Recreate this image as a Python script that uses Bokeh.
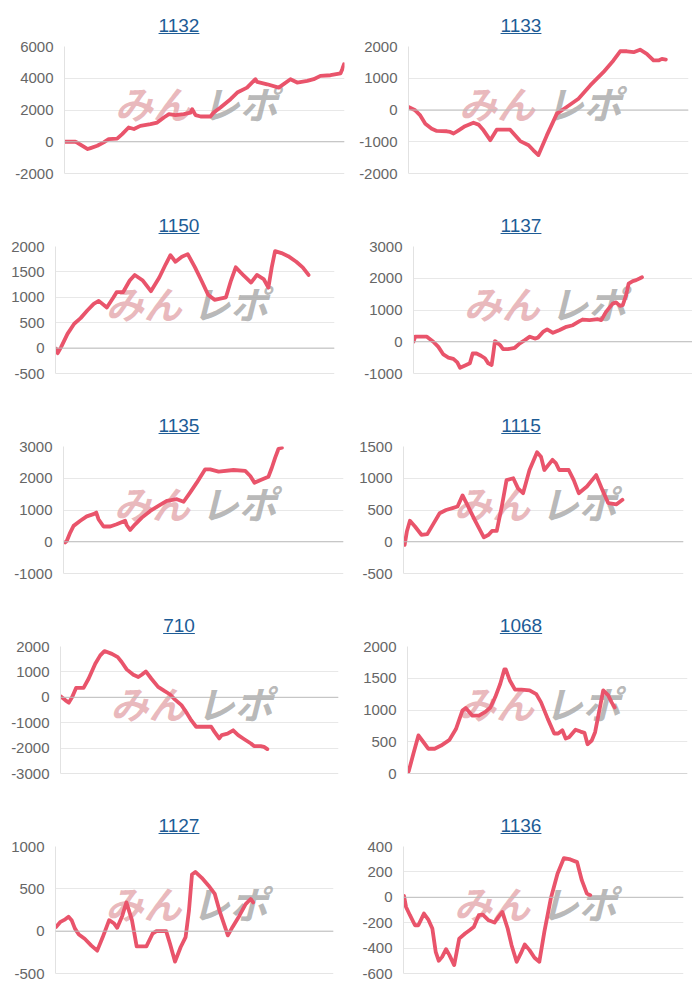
from bokeh.plotting import figure
from bokeh.models import Div, Span, FixedTicker, Range1d
from bokeh.layouts import column, row
from bokeh.core.properties import value
from bokeh.embed import file_html
from bokeh.resources import INLINE

# ---- data (x = progress 0..100, y = coin difference) ----
titles = ["1132", "1133", "1150", "1137", "1135", "1115", "710", "1068", "1127", "1136"]

pts_1132 = [(0, 0), (3.9, 0), (4.8, -80), (8.3, -460), (9.3, -400), (11.7, -250), (14, -40), (15.8, 170),
            (18.8, 200), (20.6, 480), (22.9, 900), (24.8, 800), (27.1, 1000), (30.7, 1110), (33.1, 1210),
            (35.5, 1530), (37.3, 1740), (39.6, 1680), (42.6, 1740), (45, 1840), (45.6, 2050), (46.8, 1680),
            (48.6, 1590), (52.1, 1590), (53.3, 1840), (55.7, 2160), (59.3, 2680), (61.7, 3100), (65.2, 3410),
            (68.2, 3940), (68.8, 3770), (72.4, 3620), (76.5, 3410), (80.7, 3940), (83.1, 3730), (86.7, 3830),
            (89, 3940), (91.4, 4150), (95, 4190), (98.6, 4310), (99.2, 4570), (99.8, 4880)]
pts_1133 = [(0, 94), (2.4, -10), (4.2, -170), (6, -430), (8.3, -590), (10.1, -660), (13.7, -670), (14.9, -690),
            (16.1, -740), (17.9, -640), (20.2, -510), (23.2, -400), (25, -460), (26.8, -640), (29.2, -950),
            (31.5, -620), (36.3, -620), (37.5, -740), (39.9, -980), (42.9, -1110), (44.6, -1270), (46.4, -1420),
            (49.4, -800), (53, -115), (56.5, 94), (60.7, 356), (64.9, 775), (69.6, 1190), (73.2, 1560),
            (75.6, 1850), (78, 1850), (80.4, 1820), (82.7, 1900), (85.1, 1770), (87.5, 1560), (89.3, 1560),
            (90.5, 1610), (91.9, 1590)]
pts_1150 = [(0.2, -10), (0.8, -100), (2, 20), (4.3, 280), (6.7, 480), (9, 590), (11.4, 740), (13.7, 870),
            (15.5, 930), (18.4, 800), (20.8, 1000), (21.9, 1100), (24.2, 1100), (26.6, 1330), (28.4, 1440),
            (31.3, 1330), (34.2, 1120), (37.2, 1390), (39.5, 1650), (41.2, 1830), (43, 1700), (45.3, 1800),
            (47.4, 1850), (50, 1590), (52.3, 1330), (54.7, 1050), (57, 950), (61.1, 1000), (62.9, 1330),
            (64.6, 1590), (67.6, 1420), (70.1, 1290), (72.2, 1440), (74.6, 1360), (76.3, 1190), (77.5, 1590),
            (78.7, 1910), (81, 1870), (83.4, 1810), (86.3, 1700), (88.6, 1590), (90.7, 1440)]
pts_1137 = [(0, 0), (0.6, 160), (4.8, 160), (7.1, 0), (8.9, -160), (10.7, -400), (12.5, -500), (14.3, -540),
            (15.7, -650), (16.7, -820), (18.5, -750), (20.2, -680), (21.2, -370), (22.6, -370), (24.2, -440),
            (25.6, -520), (26.8, -680), (28, -730), (28.6, -370), (29.2, 20), (31, -100), (32.1, -230),
            (33.9, -230), (36.3, -190), (38.1, -50), (39.9, 50), (41.7, 160), (43.5, 100), (44.6, 130),
            (46.4, 310), (47.9, 390), (50, 280), (52.4, 370), (54.8, 470), (57.1, 520), (59.5, 650),
            (60.7, 700), (63.1, 680), (66.1, 710), (67.3, 680), (69, 940), (71.4, 1200), (72.6, 1240),
            (74, 1130), (75, 1150), (76.2, 1470), (77.1, 1830), (78.6, 1910), (79.8, 1940), (81, 1990),
            (81.9, 2030)]
pts_1135 = [(0.6, -20), (1.2, 30), (2.4, 290), (3.6, 500), (6, 660), (8.3, 800), (10.7, 870), (11.7, 920),
            (12.5, 710), (14.3, 480), (16.7, 480), (19, 550), (22, 660), (22.6, 520), (23.8, 370), (25.6, 550),
            (28, 760), (31, 970), (33.9, 1130), (36.9, 1290), (40.5, 1340), (42.9, 1260), (45.2, 1550),
            (47.6, 1860), (50.6, 2280), (52.4, 2280), (55.4, 2210), (60.7, 2260), (64.9, 2230), (66.7, 2070),
            (68.2, 1860), (70.2, 1940), (73.2, 2050), (74.4, 2330), (75.6, 2650), (76.8, 2930), (78, 2960)]
pts_1115 = [(0.4, -50), (1.2, 160), (2.3, 330), (4.1, 240), (6.4, 110), (8.5, 120), (10.5, 270), (12.9, 450),
            (15.2, 500), (17.5, 530), (19.3, 555), (21.1, 730), (22.8, 580), (25.7, 320), (28.7, 70),
            (30.4, 110), (31.6, 170), (33.3, 170), (35.1, 555), (36.8, 970), (39.2, 1000), (40.9, 840),
            (42.7, 765), (45, 1130), (47.7, 1410), (49.1, 1340), (50.3, 1130), (53.2, 1290), (54.4, 1240),
            (55.6, 1130), (59, 1130), (60.8, 970), (62.6, 765), (65.5, 870), (68.8, 1050), (70.8, 840),
            (73.1, 610), (76.1, 590), (78.2, 660)]
pts_710 = [(0, 40), (1.8, -120), (3, -210), (4.2, 10), (5.6, 370), (8.3, 370), (10.1, 730), (12.5, 1320),
           (14.3, 1650), (15.8, 1820), (18.5, 1710), (20.6, 1580), (22, 1390), (23.8, 1100), (26.2, 890),
           (28, 800), (29.2, 890), (30.7, 1020), (32.7, 730), (35.1, 410), (37.5, 240), (39.3, 120),
           (41.1, -80), (43.5, -310), (45.2, -580), (47, -900), (48.8, -1160), (51.8, -1160), (54.2, -1160),
           (55.4, -1360), (57.1, -1620), (58, -1490), (60.1, -1430), (62.1, -1300), (63.9, -1490),
           (66.1, -1650), (68.5, -1820), (69.6, -1920), (72, -1920), (73.2, -1950), (74.4, -2040)]
pts_1068 = [(0.4, 30), (2.1, 310), (3.9, 600), (5.6, 500), (7.4, 390), (9.7, 390), (12, 440), (15, 530),
            (17.3, 700), (19.6, 990), (20.8, 1030), (23.2, 910), (25.5, 910), (27.8, 970), (29.6, 1040),
            (31.3, 1200), (33.1, 1410), (34.6, 1640), (35.1, 1640), (36.6, 1460), (38.4, 1320), (40.7, 1320),
            (43.6, 1310), (46, 1250), (47.7, 1120), (50.1, 860), (52.4, 630), (53.8, 630), (55.3, 680),
            (56.5, 550), (57.7, 570), (60, 690), (61.8, 660), (63.2, 640), (64.3, 460), (65.8, 520),
            (67, 650), (68.5, 990), (69.9, 1310), (71.7, 1230), (72.9, 1120), (74, 1040)]
pts_1127 = [(0.2, 50), (1.8, 110), (3.5, 140), (4.7, 170), (5.8, 130), (7, 30), (8.4, -40), (10.5, -90),
            (12.9, -170), (15, -230), (17, -70), (19.3, 130), (21.1, 90), (22.2, 40), (24, 180), (25.5, 340),
            (27.5, 130), (29.2, -180), (31, -180), (32.7, -180), (34.9, -30), (36.3, 0), (39.8, 0),
            (41.2, -150), (43, -360), (45, -190), (46.8, -70), (48, 240), (49.1, 670), (50.3, 700),
            (52.6, 630), (55, 540), (57.3, 440), (59, 240), (62, -50), (63.7, 50), (66.1, 180), (68.4, 320),
            (70.2, 380), (71.1, 340)]
pts_1136 = [(0.2, 10), (0.9, -76), (2.3, -141), (4.1, -220), (5.3, -220), (7.3, -128), (8.8, -173),
            (10.3, -246), (11.5, -429), (12.6, -500), (13.8, -469), (15.2, -408), (16.4, -455), (18.1, -534),
            (19.9, -325), (22, -285), (23.6, -259), (25.1, -233), (26.9, -141), (28.3, -136), (30.4, -181),
            (32.5, -199), (33.9, -154), (35.3, -115), (37.2, -246), (38.6, -377), (40.4, -508), (41.9, -442),
            (43.3, -372), (45, -416), (46.8, -476), (48.5, -508), (50.3, -272), (52.6, -10), (55, 186),
            (57.3, 309), (59.6, 298), (62, 277), (63.7, 133), (65.5, 29), (66.7, 16)]

series = [pts_1132, pts_1133, pts_1150, pts_1137, pts_1135, pts_1115, pts_710, pts_1068, pts_1127, pts_1136]

# y-axis scales (min, max, step) per chart
y_min = [-2000, -2000, -500, -1000, -1000, -500, -3000, 0, -500, -600]
y_max = [6000, 2000, 2000, 3000, 3000, 1500, 2000, 2000, 1000, 400]
y_step = [2000, 1000, 500, 1000, 1000, 500, 1000, 500, 500, 200]

# ---- styling ----
LINE_COLOR = "#e9546b"
TITLE_COLOR = "#1d5c96"
FONT = "Liberation Sans"
left_borders = [56, 58, 46, 63, 55, 53, 50, 57, 45, 53]
title_pad = [8, 14]
CELL_W = 342
FRAME_W = 280
FRAME_H = 127


def make_cell(i, last_row):
    title = titles[i]
    pad = title_pad[i % 2]
    div = Div(
        text=(f'<div style="width:{CELL_W - pad}px;padding-left:{pad}px;text-align:center;'
              f'font-family:\'{FONT}\',Arial,sans-serif;font-size:19px;color:{TITLE_COLOR};'
              f'text-decoration:underline;padding-top:5px;">{title}</div>'),
        width=CELL_W, height=30, margin=0,
    )
    h = 150 if last_row else 170
    lb = left_borders[i]
    rb = max(CELL_W - lb - FRAME_W, 0)
    p = figure(width=CELL_W, height=h, output_backend="svg", toolbar_location=None,
               x_range=Range1d(0, 100), y_range=Range1d(y_min[i], y_max[i]),
               min_border_left=lb, min_border_right=rb, min_border_top=9,
               min_border_bottom=h - 9 - FRAME_H, margin=0)
    p.outline_line_color = None
    p.background_fill_color = "white"
    p.border_fill_color = "white"
    p.xaxis.visible = False
    p.xgrid.visible = False

    ticks = list(range(y_min[i], y_max[i] + 1, y_step[i]))
    p.yaxis.ticker = FixedTicker(ticks=ticks)
    p.yaxis.major_label_overrides = {t: str(t) for t in ticks}
    p.ygrid.ticker = FixedTicker(ticks=ticks)
    p.ygrid.grid_line_color = "#e8e8e8"
    p.yaxis.axis_line_color = "#e2e2e2"
    p.yaxis.major_tick_line_color = None
    p.yaxis.minor_tick_line_color = None
    p.yaxis.major_tick_in = 0
    p.yaxis.major_tick_out = 0
    p.yaxis.major_label_standoff = 11
    p.yaxis.major_label_text_font = FONT
    p.yaxis.major_label_text_font_size = "15px"
    p.yaxis.major_label_text_color = "#666666"

    p.add_layout(Span(location=0, dimension="width", line_color="#bdbdbd", line_width=1))
    p.add_layout(Span(location=y_min[i], dimension="width", line_color="#cccccc", line_width=1))

    # watermark
    yr = y_max[i] - y_min[i]
    wy = y_max[i] - 0.44 * yr
    p.text(x=[18], y=[wy], text=["みん"], text_font=value("Noto Sans CJK JP"), text_font_size="38px",
           text_font_style="bold italic", text_color="#e3a6ab", text_alpha=0.8,
           text_baseline="middle", text_align="left")
    p.text(x=[49], y=[wy], text=["レポ"], text_font=value("Noto Sans CJK JP"), text_font_size="38px",
           text_font_style="bold italic", text_color="#a6a6a6", text_alpha=0.8,
           text_baseline="middle", text_align="left")

    xs = [pt[0] for pt in series[i]]
    ys = [pt[1] for pt in series[i]]
    p.line(xs, ys, line_color=LINE_COLOR, line_width=3.8, line_join="round", line_cap="round")
    return column(div, p, spacing=0, margin=0)


rows = []
for r in range(5):
    last = r == 4
    rows.append(row(make_cell(2 * r, last), make_cell(2 * r + 1, last), spacing=0, margin=0))
layout = column(*rows, spacing=0, margin=(7, 0, 0, 8))

open("out.html", "w").write(file_html(layout, INLINE))
